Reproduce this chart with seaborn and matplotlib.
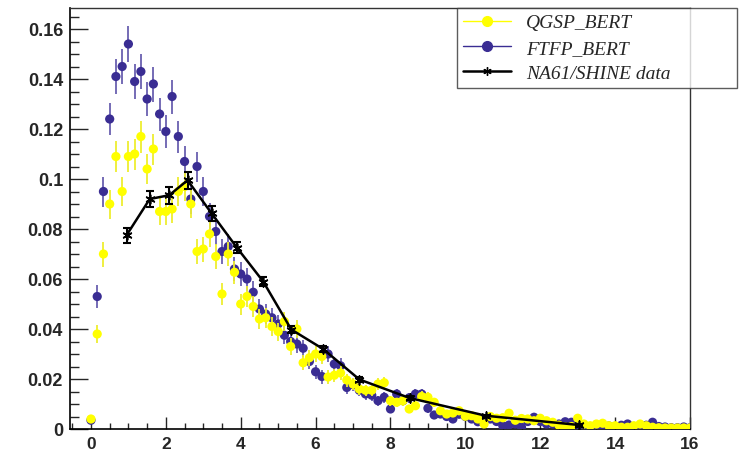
import numpy as np
import pandas as pd
import matplotlib
matplotlib.use("Agg")
import matplotlib.pyplot as plt
import seaborn as sns
from matplotlib.lines import Line2D
from matplotlib.ticker import MultipleLocator, FuncFormatter

# Plot Configurations
sns.set_style("white")
plt.rcParams['font.family'] = ['Liberation Sans', 'DejaVu Sans']

yellow = "#ffff00"
yellow_err = "#eeee30"
blue = "#3a2d93"
blue_err = "#6a60b0"

# bin centres (97 bins, width 1/6)
bins = np.linspace(0, 16, 97)

# QGSP_BERT
qgsp = [0.0040, 0.0380, 0.0700, 0.0900, 0.1090, 0.0950, 0.1090, 0.1100, 0.1170, 0.1040,
        0.1120, 0.0870, 0.0870, 0.0880, 0.0950, 0.0970, 0.0900, 0.0710, 0.0720, 0.0780,
        0.0690, 0.0540, 0.0700, 0.0627, 0.0500, 0.0530, 0.0490, 0.0440, 0.0445, 0.0410,
        0.0390, 0.0430, 0.0330, 0.0400, 0.0265, 0.0285, 0.0300, 0.0290, 0.0208, 0.0215,
        0.0224, 0.0196, 0.0180, 0.0160, 0.0155, 0.0155, 0.0180, 0.0185, 0.0113, 0.0107,
        0.0113, 0.0080, 0.0093, 0.0130, 0.0127, 0.0107, 0.0073, 0.0060, 0.0064, 0.0073,
        0.0051, 0.0053, 0.0040, 0.0020, 0.0050, 0.0043, 0.0045, 0.0063, 0.0035, 0.0042,
        0.0040, 0.0033, 0.0043, 0.0033, 0.0027, 0.0015, 0.0008, 0.0010, 0.0043, 0.0020,
        0.0013, 0.0020, 0.0023, 0.0013, 0.0013, 0.0007, 0.0007, 0.0013, 0.0020, 0.0013,
        0.0007, 0.0005, 0.0004, 0.0004, 0.0004, 0.0004, 0.0004]
qgsp_err = [0.0010, 0.0035, 0.0050, 0.0058, 0.0062, 0.0058, 0.0062, 0.0062, 0.0064, 0.0060,
            0.0062, 0.0055, 0.0055, 0.0055, 0.0058, 0.0058, 0.0056, 0.0050, 0.0050, 0.0052,
            0.0049, 0.0044, 0.0049, 0.0046, 0.0042, 0.0043, 0.0041, 0.0039, 0.0039, 0.0037,
            0.0036, 0.0038, 0.0033, 0.0036, 0.0030, 0.0031, 0.0032, 0.0031, 0.0027, 0.0027,
            0.0028, 0.0026, 0.0025, 0.0024, 0.0023, 0.0023, 0.0025, 0.0025, 0.0020, 0.0019,
            0.0020, 0.0017, 0.0018, 0.0021, 0.0021, 0.0019, 0.0016, 0.0014, 0.0015, 0.0016,
            0.0013, 0.0013, 0.0012, 0.0009, 0.0013, 0.0012, 0.0012, 0.0014, 0.0011, 0.0012,
            0.0012, 0.0011, 0.0012, 0.0011, 0.0010, 0.0008, 0.0006, 0.0006, 0.0012, 0.0008,
            0.0007, 0.0008, 0.0009, 0.0007, 0.0007, 0.0005, 0.0005, 0.0007, 0.0008, 0.0007,
            0.0005, 0.0004, 0.0004, 0.0004, 0.0004, 0.0004, 0.0004]

# FTFP_BERT
ftfp = [0.0035, 0.0530, 0.0950, 0.1240, 0.1410, 0.1450, 0.1540, 0.1390, 0.1430, 0.1320,
        0.1380, 0.1260, 0.1190, 0.1330, 0.1170, 0.1070, 0.0920, 0.1050, 0.0950, 0.0850,
        0.0790, 0.0710, 0.0730, 0.0640, 0.0620, 0.0600, 0.0547, 0.0480, 0.0460, 0.0445,
        0.0420, 0.0375, 0.0350, 0.0340, 0.0323, 0.0270, 0.0229, 0.0210, 0.0300, 0.0260,
        0.0253, 0.0166, 0.0177, 0.0155, 0.0140, 0.0135, 0.0113, 0.0127, 0.0080, 0.0140,
        0.0113, 0.0125, 0.0140, 0.0140, 0.0083, 0.0056, 0.0060, 0.0050, 0.0040, 0.0059,
        0.0050, 0.0040, 0.0029, 0.0040, 0.0040, 0.0030, 0.0013, 0.0016, 0.0020, 0.0007,
        0.0030, 0.0047, 0.0030, 0.0020, 0.0020, 0.0020, 0.0029, 0.0027, 0.0015, 0.0010,
        0.0010, 0.0003, 0.0010, 0.0012, 0.0010, 0.0015, 0.0020, 0.0010, 0.0010, 0.0015,
        0.0027, 0.0010, 0.0008, 0.0005, 0.0005, 0.0008, 0.0005]
ftfp_err = [0.0010, 0.0045, 0.0060, 0.0065, 0.0070, 0.0070, 0.0072, 0.0070, 0.0070, 0.0068,
            0.0070, 0.0066, 0.0065, 0.0068, 0.0064, 0.0062, 0.0058, 0.0060, 0.0058, 0.0055,
            0.0053, 0.0050, 0.0050, 0.0048, 0.0047, 0.0046, 0.0044, 0.0042, 0.0041, 0.0040,
            0.0038, 0.0036, 0.0035, 0.0034, 0.0034, 0.0031, 0.0029, 0.0028, 0.0032, 0.0030,
            0.0030, 0.0025, 0.0025, 0.0023, 0.0022, 0.0022, 0.0020, 0.0021, 0.0017, 0.0022,
            0.0020, 0.0021, 0.0022, 0.0022, 0.0017, 0.0014, 0.0015, 0.0013, 0.0012, 0.0014,
            0.0013, 0.0012, 0.0010, 0.0012, 0.0012, 0.0010, 0.0007, 0.0008, 0.0009, 0.0005,
            0.0010, 0.0013, 0.0010, 0.0008, 0.0008, 0.0008, 0.0010, 0.0010, 0.0007, 0.0006,
            0.0006, 0.0003, 0.0006, 0.0007, 0.0006, 0.0007, 0.0008, 0.0006, 0.0006, 0.0007,
            0.0010, 0.0006, 0.0005, 0.0004, 0.0004, 0.0005, 0.0004]

# NA61/SHINE data
na61_x = [0.95, 1.57, 2.09, 2.58, 3.22, 3.90, 4.60, 5.35, 6.20, 7.17, 8.51, 10.55, 13.04]
na61_y = [0.0775, 0.0920, 0.0935, 0.0995, 0.0863, 0.0725, 0.0590, 0.0398, 0.0320, 0.0198,
          0.0124, 0.0053, 0.0016]
na61_err = [0.0030, 0.0033, 0.0035, 0.0035, 0.0030, 0.0022, 0.0018, 0.0015, 0.0012, 0.0010,
            0.0008, 0.0005, 0.0004]

sim = pd.DataFrame({"p": bins, "qgsp": qgsp, "qgsp_err": qgsp_err,
                    "ftfp": ftfp, "ftfp_err": ftfp_err})
data = pd.DataFrame({"p": na61_x, "val": na61_y, "err": na61_err})


fig = plt.figure(figsize=(7.4, 4.52), dpi=100)
ax = fig.add_axes([70 / 740, 22 / 452, 620 / 740, 421 / 452])

# FTFP_BERT (drawn first, yellow sits on top)
ax.errorbar(sim["p"], sim["ftfp"], yerr=sim["ftfp_err"], fmt="none", ecolor=blue_err,
            elinewidth=1.3, capsize=0, zorder=2)
sns.scatterplot(data=sim, x="p", y="ftfp", color=blue, s=44, edgecolor="none", ax=ax, zorder=3)

# QGSP_BERT
ax.errorbar(sim["p"], sim["qgsp"], yerr=sim["qgsp_err"], fmt="none", ecolor=yellow_err,
            elinewidth=1.3, capsize=0, zorder=4)
sns.scatterplot(data=sim, x="p", y="qgsp", color=yellow, s=44, edgecolor="none", ax=ax, zorder=5)

# NA61/SHINE
sns.lineplot(data=data, x="p", y="val", color="black", lw=1.8, ax=ax, zorder=6)
ax.errorbar(data["p"], data["val"], yerr=data["err"], fmt="none", ecolor="black",
            elinewidth=1.5, capsize=3, capthick=1.5, zorder=7)
sns.scatterplot(data=data, x="p", y="val", marker=(6, 2, 0), color="black", s=40,
                linewidth=1.2, ax=ax, zorder=8)

ax.set_xlim(-0.56, 16)
ax.set_ylim(0, 0.1684)
ax.set(xlabel=None, ylabel=None)

ax.xaxis.set_major_locator(MultipleLocator(2))
ax.xaxis.set_minor_locator(MultipleLocator(0.5))
ax.yaxis.set_major_locator(MultipleLocator(0.02))
ax.yaxis.set_minor_locator(MultipleLocator(0.005))
ax.yaxis.set_major_formatter(FuncFormatter(lambda v, p: "%g" % round(v, 3)))
ax.xaxis.set_major_formatter(FuncFormatter(lambda v, p: "%g" % v))

ax.tick_params(axis="x", which="major", direction="in", length=9, width=1, pad=5,
               labelsize=12.5, bottom=True, top=False)
ax.tick_params(axis="x", which="minor", direction="in", length=4.5, width=1, bottom=True, top=False)
ax.tick_params(axis="y", which="major", direction="in", length=13, width=1, pad=5,
               labelsize=13, left=True, right=False)
ax.tick_params(axis="y", which="minor", direction="in", length=6.5, width=1, left=True, right=False)
for lab in ax.get_xticklabels() + ax.get_yticklabels():
    lab.set_fontweight("bold")

for side in ["left", "bottom"]:
    ax.spines[side].set_color("black")
    ax.spines[side].set_linewidth(1.2)
for side in ["top", "right"]:
    ax.spines[side].set_color("#333333")
    ax.spines[side].set_linewidth(1.0)

handles = [
    Line2D([], [], color=yellow, marker="o", markersize=7, lw=1),
    Line2D([], [], color=blue, marker="o", markersize=7, lw=1),
    Line2D([], [], color="black", marker=(6, 2, 0), markersize=6, lw=1.8),
]
labels = ["QGSP_BERT", "FTFP_BERT", "NA61/SHINE data"]
leg = fig.legend(handles, labels, loc="upper left", mode="expand",
                 bbox_to_anchor=(457 / 740, 1 - 88 / 452, 280 / 740, 79 / 452),
                 bbox_transform=fig.transFigure,
                 frameon=True, fancybox=False, borderaxespad=0, borderpad=0.3,
                 handlelength=2.5, handletextpad=0.75, labelspacing=0.4,
                 prop={"family": "Liberation Serif", "style": "italic", "size": 14})
leg.get_frame().set_edgecolor("#333333")
leg.get_frame().set_linewidth(1.0)
leg.set_zorder(10)

fig.savefig("out.png", dpi=100)
